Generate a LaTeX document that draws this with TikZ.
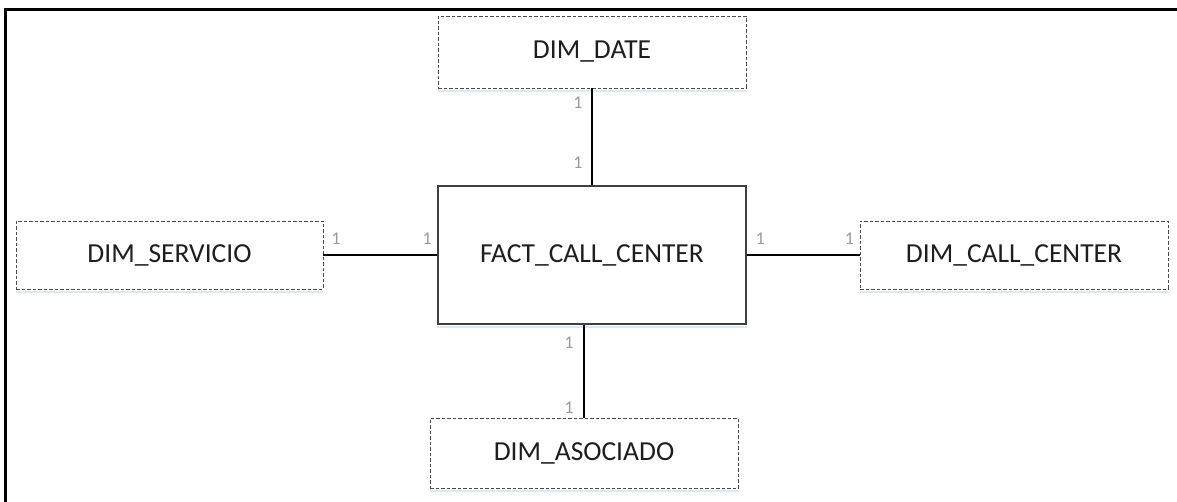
\documentclass[tikz,border=0pt]{standalone}
\usepackage{fontspec}
\setmainfont{Carlito}
\usepackage{tikz}
\usetikzlibrary{positioning}
\definecolor{BoxLine}{HTML}{4A4A4A}
\definecolor{FactLine}{HTML}{3F3F3F}
\definecolor{CardGray}{HTML}{9A9A9A}
\definecolor{ShadowBlue}{HTML}{DCE9F5}
\definecolor{InkText}{HTML}{1E1E1E}

\tikzset{
  dimbox/.style={draw=BoxLine,dash pattern=on 3.5pt off 2pt,line width=.9pt,fill=white,
    minimum width=308pt,minimum height=70pt,inner sep=0pt,
    font=\fontsize{27.5}{32}\selectfont,text=InkText},
  factbox/.style={draw=FactLine,line width=1.1pt,fill=white,
    minimum width=308pt,minimum height=138pt,inner sep=0pt,
    font=\fontsize{27.5}{32}\selectfont,text=InkText},
  link/.style={line width=2.2pt,black},
  card/.style={font=\fontsize{18}{21}\selectfont,text=CardGray,inner sep=0pt},
  shadowline/.style={ShadowBlue,line width=2.5pt}
}

\begin{document}
\begin{tikzpicture}[x=1pt,y=-1pt]
\useasboundingbox (0,0) rectangle (1177,502);
% marco
\draw[line width=3pt] (5.5,502) -- (5.5,9.5) -- (1177,9.5);

% tablas
\node[factbox] (fact) at (592,255) {FACT\_CALL\_CENTER};
\node[dimbox,minimum height=72pt] (date) at (592,52) {DIM\_DATE};
\node[dimbox,minimum width=307pt,minimum height=68pt] (serv) at (169.5,255) {DIM\_SERVICIO};
\node[dimbox,minimum height=68pt] (ccenter) at (1014,255) {DIM\_CALL\_CENTER};
\node[dimbox] (asoc) at (584,453) {DIM\_ASOCIADO};

% sombra azul
\foreach \n in {date,serv,ccenter,asoc,fact}{
  \draw[shadowline] ([yshift=-2.5pt]\n.south west) -- ([yshift=-2.5pt]\n.south east);
}

% relaciones
\draw[link] (date) -- node[card,pos=.15,xshift=-14pt] {1} node[card,pos=.77,xshift=-14pt] {1} (fact);
\draw[link] (serv) -- node[card,pos=.11,yshift=16pt] {1} node[card,pos=.91,yshift=16pt] {1} (fact);
\draw[link] (fact) -- node[card,pos=.12,yshift=16pt] {1} node[card,pos=.91,yshift=16pt] {1} (ccenter);
\draw[link] (asoc.north |- fact.south) -- node[card,pos=.19,xshift=-15pt] {1} node[card,pos=.89,xshift=-15pt] {1} (asoc.north);
\end{tikzpicture}
\end{document}
